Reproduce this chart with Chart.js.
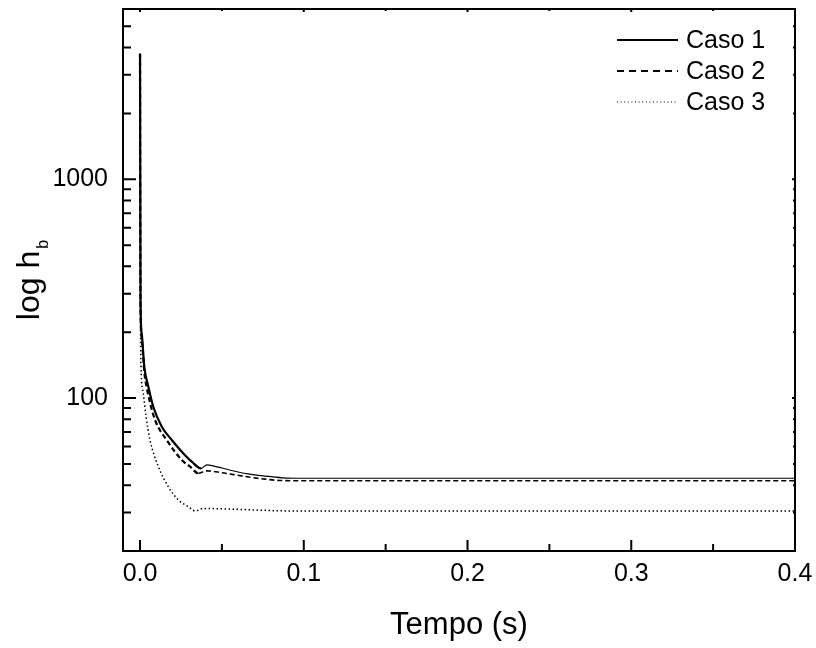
<!DOCTYPE html>
<html>
<head>
<meta charset="utf-8">
<script src="https://cdn.jsdelivr.net/npm/chart.js@4"></script>
<style>
  html, body { margin: 0; padding: 0; background: #fff; }
  canvas { display: block; }
</style>
</head>
<body>
<canvas id="c" width="816" height="648"></canvas>
<script>
// ---- data ----
const seriesNames = ['Caso 1', 'Caso 2', 'Caso 3'];

const caso1T = [0, 0.0003, 0.001, 0.0026, 0.0051, 0.0081, 0.0133, 0.0194, 0.0255, 0.0316, 0.0373, 0.0408, 0.045, 0.05, 0.058, 0.066, 0.076, 0.087, 0.1, 0.2, 0.4];
const caso1V = [3750, 280, 198, 139, 112.6, 91.3, 74.0, 64.3, 56.9, 51.2, 47.7, 49.5, 48.9, 47.9, 46.3, 45.0, 44.0, 43.2, 43.0, 43.0, 43.0];

const caso2T = [0, 0.0003, 0.001, 0.0026, 0.0051, 0.0092, 0.0163, 0.0255, 0.0306, 0.0356, 0.0408, 0.0499, 0.0642, 0.0764, 0.0856, 0.1, 0.2, 0.4];
const caso2V = [3750, 275, 190, 132, 103, 79.3, 64.3, 52.1, 48.6, 45.3, 46.5, 45.6, 43.8, 42.6, 42.0, 41.9, 41.9, 41.9];

const caso3T = [0, 0.0003, 0.0006, 0.002, 0.0037, 0.0061, 0.0112, 0.0173, 0.0234, 0.0295, 0.0336, 0.0387, 0.0479, 0.06, 0.075, 0.09, 0.2, 0.4];
const caso3V = [3750, 220, 139, 105, 82.2, 64.3, 48.6, 39.3, 34.2, 31.9, 30.5, 31.3, 31.2, 31.0, 30.7, 30.5, 30.5, 30.5];

const xTickValues = [0, 0.1, 0.2, 0.3, 0.4];
const xTickLabels = ['0.0', '0.1', '0.2', '0.3', '0.4'];
const xMinorValues = [0.05, 0.15, 0.25, 0.35];
const yTickValues = [100, 1000];
const yTickLabels = ['100', '1000'];
const yMinorValues = [30, 40, 50, 60, 70, 80, 90, 200, 300, 400, 500, 600, 700, 800, 900, 2000, 3000, 4000, 5000];
const xTitle = 'Tempo (s)';
const yTitleMain = 'log h';
const yTitleSub = 'b';

const FONT = '"Liberation Sans", Arial, sans-serif';

function pts(T, V) { return T.map((t, i) => ({ x: t, y: V[i] })); }

const frameAndTicks = {
  id: 'frameAndTicks',
  afterDatasetsDraw(chart) {
    const { ctx, chartArea: a, scales: { x, y } } = chart;
    ctx.save();
    ctx.strokeStyle = '#000';
    ctx.lineWidth = 2;
    ctx.lineCap = 'butt';
    ctx.strokeRect(a.left, a.top, a.right - a.left, a.bottom - a.top);
    ctx.beginPath();
    xTickValues.forEach(v => { const p = x.getPixelForValue(v); ctx.moveTo(p, a.bottom); ctx.lineTo(p, a.bottom - 11); ctx.moveTo(p, a.top); ctx.lineTo(p, a.top + 3); });
    xMinorValues.forEach(v => { const p = x.getPixelForValue(v); ctx.moveTo(p, a.bottom); ctx.lineTo(p, a.bottom - 7); ctx.moveTo(p, a.top); ctx.lineTo(p, a.top + 2); });
    yTickValues.forEach(v => { const p = y.getPixelForValue(v); ctx.moveTo(a.left, p); ctx.lineTo(a.left + 13, p); ctx.moveTo(a.right, p); ctx.lineTo(a.right - 3, p); });
    yMinorValues.forEach(v => { const p = y.getPixelForValue(v); ctx.moveTo(a.left, p); ctx.lineTo(a.left + 8, p); ctx.moveTo(a.right, p); ctx.lineTo(a.right - 2, p); });
    ctx.stroke();

    // y title with subscript
    ctx.fillStyle = '#000';
    ctx.translate(39, (a.top + a.bottom) / 2);
    ctx.rotate(-Math.PI / 2);
    ctx.textBaseline = 'alphabetic';
    ctx.font = '32px ' + FONT;
    const w1 = ctx.measureText(yTitleMain).width;
    ctx.font = '16px ' + FONT;
    const w2 = ctx.measureText(yTitleSub).width;
    const start = -(w1 + 2 + w2) / 2;
    ctx.font = '32px ' + FONT;
    ctx.fillText(yTitleMain, start, 0);
    ctx.font = '16px ' + FONT;
    ctx.fillText(yTitleSub, start + w1 + 2, 9);
    ctx.restore();

    // legend
    ctx.save();
    const rows = [40, 71, 102];
    const styles = [
      { w: 2, dash: [] },
      { w: 2, dash: [7, 5] },
      { w: 1, dash: [1, 2.6] }
    ];
    chart.data.datasets.forEach((ds, i) => {
      const yy = rows[i];
      ctx.beginPath();
      ctx.setLineDash(styles[i].dash);
      ctx.lineWidth = styles[i].w;
      ctx.strokeStyle = '#000';
      ctx.moveTo(617, yy);
      ctx.lineTo(678, yy);
      ctx.stroke();
      ctx.setLineDash([]);
      ctx.fillStyle = '#000';
      ctx.font = '25px ' + FONT;
      ctx.textBaseline = 'middle';
      ctx.textAlign = 'left';
      ctx.fillText(ds.label, 686, yy + 1);
    });
    ctx.restore();
  }
};

const widthBy = (cut, thick, thin) => (c) => (c.p0.parsed.x < cut ? thick : thin);
const noPad = s => { s.paddingTop = 0; s.paddingBottom = 0; s.paddingLeft = 0; s.paddingRight = 0; };

new Chart(document.getElementById('c'), {
  type: 'line',
  data: {
    datasets: [
      { label: seriesNames[0], data: pts(caso1T, caso1V), borderColor: '#000', borderWidth: 2,
        segment: { borderWidth: widthBy(0.0372, 2.2, 1.2) } },
      { label: seriesNames[1], data: pts(caso2T, caso2V), borderColor: '#000', borderWidth: 2, borderDash: [5, 3],
        segment: { borderWidth: widthBy(0.0355, 2.2, 1.6) } },
      { label: seriesNames[2], data: pts(caso3T, caso3V), borderColor: '#000', borderWidth: 1.5, borderDash: [1.5, 2.5] }
    ]
  },
  options: {
    responsive: false,
    animation: false,
    devicePixelRatio: 1,
    elements: { point: { radius: 0 }, line: { cubicInterpolationMode: 'monotone', fill: false } },
    layout: { padding: { left: 0, right: 21, top: 9, bottom: 0 } },
    plugins: { legend: { display: false }, tooltip: { enabled: false } },
    scales: {
      x: {
        type: 'linear', min: -0.0104, max: 0.4,
        grid: { display: false, drawTicks: false }, border: { display: false },
        afterBuildTicks: s => { s.ticks = xTickValues.map(v => ({ value: v })); },
        afterFit: s => { s.height = 97; noPad(s); },
        ticks: { padding: 8, color: '#000', font: { family: FONT, size: 25 }, maxRotation: 0, autoSkip: false,
          callback: (v, i) => xTickLabels[i] },
        title: { display: true, text: xTitle, color: '#000', font: { family: FONT, size: 31, lineHeight: 1.2 }, padding: { top: 0, bottom: 4 } }
      },
      y: {
        type: 'logarithmic', min: 20, max: 6000,
        grid: { display: false, drawTicks: false }, border: { display: false },
        afterBuildTicks: s => { s.ticks = yTickValues.map(v => ({ value: v })); },
        afterFit: s => { s.width = 123; noPad(s); },
        ticks: { padding: 15, color: '#000', font: { family: FONT, size: 25 }, autoSkip: false,
          callback: (v, i) => yTickLabels[i] }
      }
    }
  },
  plugins: [frameAndTicks]
});
</script>
</body>
</html>
